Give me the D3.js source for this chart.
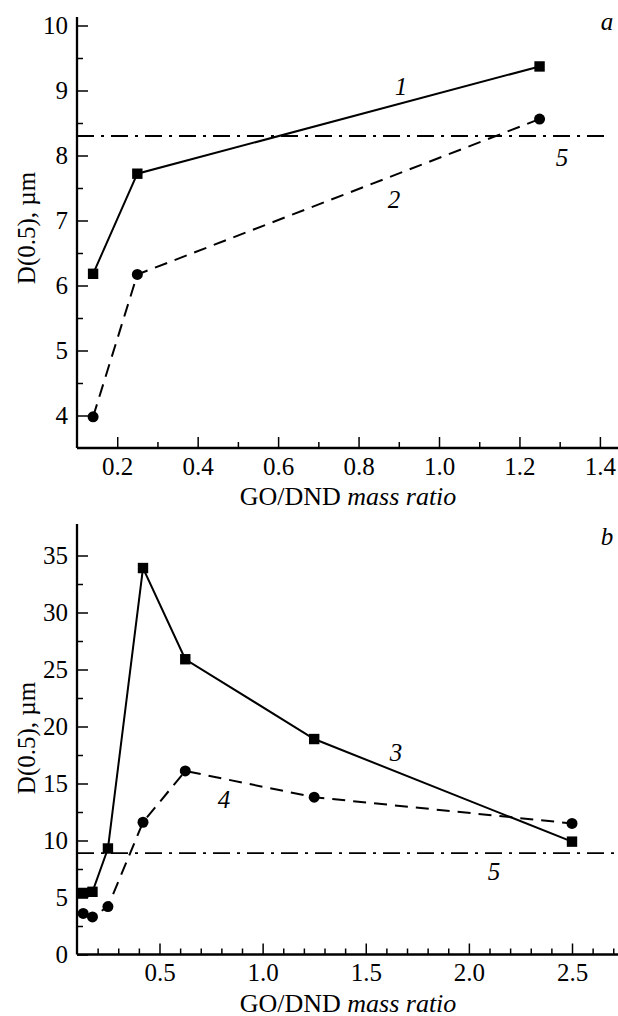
<!DOCTYPE html>
<html>
<head>
<meta charset="utf-8">
<script src="https://cdn.jsdelivr.net/npm/d3@7"></script>
<style>
  html, body { margin: 0; padding: 0; background: #fff; }
  svg { display: block; }
  text { font-family: "Liberation Serif", "Times New Roman", Times, serif; fill: #000; }
</style>
</head>
<body>
<svg id="chart" width="618" height="1016"></svg>
<script>
// Panel a: median particle size vs GO/DND mass ratio
const ratioA = [0.14, 0.25, 1.25];
const curve1 = [6.18, 7.72, 9.37];
const curve2 = [3.98, 6.17, 8.56];
const level5A = 8.3;

// Panel b
const ratioB = [0.13, 0.175, 0.25, 0.42, 0.625, 1.25, 2.5];
const curve3 = [5.4, 5.5, 9.3, 33.9, 25.9, 18.9, 9.9];
const curve4 = [3.6, 3.3, 4.2, 11.6, 16.1, 13.8, 11.5];
const level5B = 8.9;

const ticksA_x = [0.2, 0.4, 0.6, 0.8, 1.0, 1.2, 1.4];
const ticksA_y = [4, 5, 6, 7, 8, 9, 10];
const ticksB_x = [0.5, 1.0, 1.5, 2.0, 2.5];
const ticksB_y = [0, 5, 10, 15, 20, 25, 30, 35];

const FONT = "'Liberation Serif', 'Times New Roman', Times, serif";
const svg = d3.select("#chart");

function panel(cfg) {
  const g = svg.append("g");
  const x = d3.scaleLinear().domain(cfg.xDomain).range([77, 618]);
  const y = d3.scaleLinear().domain(cfg.yDomain).range([cfg.yBottom, cfg.yTop]);

  // minor ticks
  g.append("g").attr("transform", `translate(0,${cfg.yBottom})`)
    .call(d3.axisBottom(x).tickValues(cfg.xMinor).tickSize(-6).tickFormat(""))
    .call(s => s.select(".domain").remove());
  g.append("g").attr("transform", `translate(77,0)`)
    .call(d3.axisLeft(y).tickValues(cfg.yMinor).tickSize(-6).tickFormat(""))
    .call(s => s.select(".domain").remove());

  // major ticks + labels
  const ax = g.append("g").attr("transform", `translate(0,${cfg.yBottom})`)
    .call(d3.axisBottom(x).tickValues(cfg.xTicks).tickSizeInner(-11).tickSizeOuter(0)
      .tickPadding(9).tickFormat(cfg.xFmt));
  const ay = g.append("g").attr("transform", `translate(77,0)`)
    .call(d3.axisLeft(y).tickValues(cfg.yTicks).tickSizeInner(-11).tickSizeOuter(0)
      .tickPadding(9).tickFormat(d3.format("d")));
  [ax, ay].forEach(a => {
    a.attr("font-family", FONT).attr("font-size", 25);
    a.selectAll("text").attr("fill", "#000");
    a.select(".domain").attr("stroke-width", 2.3);
  });
  g.selectAll(".tick line").attr("stroke", "#000").attr("stroke-width", 1.5);
  ay.select(".domain").attr("d", `M0,${cfg.yBottom}V${cfg.yTop - cfg.axisOver}`);
  ax.select(".domain").attr("d", `M77,0H618`);

  // axis titles
  const xt = g.append("text").attr("x", 348).attr("y", cfg.yBottom + 57)
    .attr("text-anchor", "middle").attr("font-family", FONT).attr("font-size", 26);
  xt.append("tspan").text("GO/DND ");
  xt.append("tspan").attr("font-style", "italic").text("mass ratio");

  g.append("text")
    .attr("transform", `translate(35,${cfg.yTitle}) rotate(-90)`)
    .attr("text-anchor", "middle").attr("font-family", FONT).attr("font-size", 25)
    .text("D(0.5), \u00b5m");

  // reference level 5
  g.append("line")
    .attr("x1", 77).attr("x2", cfg.levelEnd)
    .attr("y1", y(cfg.level)).attr("y2", y(cfg.level))
    .attr("stroke", "#000").attr("stroke-width", 1.8)
    .attr("stroke-dasharray", "17,7,3,7");

  const line = d3.line().x(d => x(d[0])).y(d => y(d[1]));

  cfg.series.forEach(s => {
    const pts = cfg.xs.map((v, i) => [v, s.values[i]]);
    g.append("path").datum(pts)
      .attr("d", line).attr("fill", "none").attr("stroke", "#000")
      .attr("stroke-width", 2)
      .attr("stroke-dasharray", s.dash || null);
    if (s.shape === "square") {
      g.selectAll(null).data(pts).enter().append("rect")
        .attr("x", d => x(d[0]) - 5.2).attr("y", d => y(d[1]) - 5.2)
        .attr("width", 10.4).attr("height", 10.4).attr("fill", "#000");
    } else {
      g.selectAll(null).data(pts).enter().append("circle")
        .attr("cx", d => x(d[0])).attr("cy", d => y(d[1])).attr("r", 5.5)
        .attr("fill", "#000");
    }
  });

  // curve numbers and panel letter
  cfg.labels.forEach(l => {
    g.append("text").attr("x", l.x).attr("y", l.y)
      .attr("text-anchor", "middle").attr("font-family", FONT).attr("font-size", 25)
      .attr("font-style", "italic").text(l.t);
  });
}

panel({
  xDomain: [0.1, 1.445], yDomain: [3.5, 10], yBottom: 448, yTop: 25.5, axisOver: 8.5,
  xTicks: ticksA_x, yTicks: ticksA_y, xFmt: d3.format(".1f"),
  xMinor: d3.range(3, 15, 2).map(v => v / 10),
  yMinor: [4.5, 5.5, 6.5, 7.5, 8.5, 9.5],
  yTitle: 228, level: level5A, levelEnd: 605,
  xs: ratioA,
  series: [
    { values: curve1, shape: "square" },
    { values: curve2, shape: "circle", dash: "13,8" }
  ],
  labels: [
    { t: "1", x: 401, y: 95 },
    { t: "2", x: 394, y: 208 },
    { t: "5", x: 562, y: 166 },
    { t: "a", x: 607, y: 30 }
  ]
});

panel({
  xDomain: [0.1, 2.723], yDomain: [0, 35], yBottom: 954.5, yTop: 555.5, axisOver: 31.5,
  xTicks: ticksB_x, yTicks: ticksB_y, xFmt: d3.format(".1f"),
  xMinor: d3.range(2, 28).filter(v => v % 5 !== 0).map(v => v / 10),
  yMinor: [2.5, 7.5, 12.5, 17.5, 22.5, 27.5, 32.5],
  yTitle: 738, level: level5B, levelEnd: 618,
  xs: ratioB,
  series: [
    { values: curve3, shape: "square" },
    { values: curve4, shape: "circle", dash: "13,8" }
  ],
  labels: [
    { t: "3", x: 396, y: 761 },
    { t: "4", x: 224, y: 808 },
    { t: "5", x: 494, y: 880 },
    { t: "b", x: 607, y: 545 }
  ]
});
</script>
</body>
</html>
